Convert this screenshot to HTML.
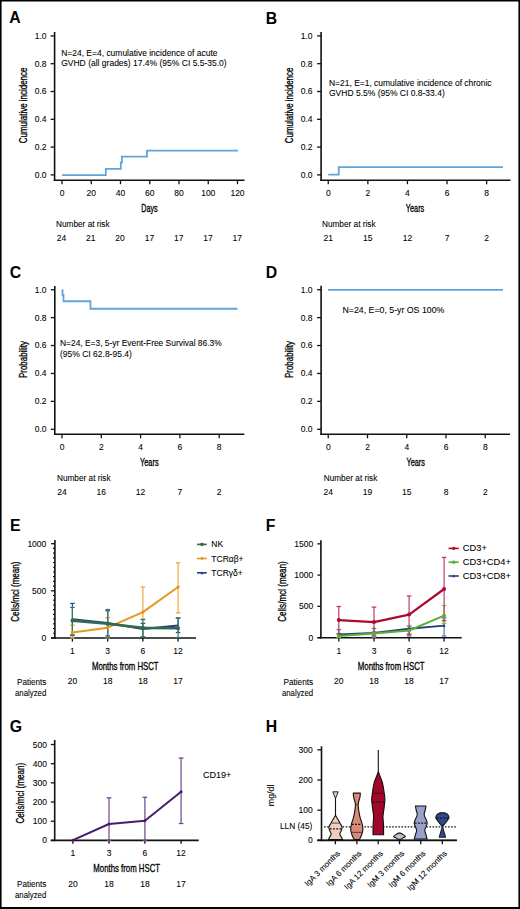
<!DOCTYPE html><html><head><meta charset="utf-8"><style>html,body{margin:0;padding:0;background:#fff;overflow:hidden}svg{display:block}text{font-family:"Liberation Sans",sans-serif;fill:#000;stroke:#000;stroke-width:0.08px}</style></head><body>
<svg width="520" height="909" viewBox="0 0 520 909">
<rect x="0" y="0" width="520" height="909" fill="#fff"/>
<text x="9.3" y="23.2" font-size="15.8" font-weight="bold" style="stroke-width:0" fill="#000" stroke="#000">A</text>
<line x1="54.6" y1="32" x2="54.6" y2="181" stroke="#111" stroke-width="1.6"/>
<line x1="53.8" y1="180.2" x2="244.5" y2="180.2" stroke="#111" stroke-width="1.6"/>
<line x1="50.6" y1="174.9" x2="54.6" y2="174.9" stroke="#111" stroke-width="1.3"/>
<text x="46.6" y="177.8" font-size="8.5" text-anchor="end">0.0</text>
<line x1="50.6" y1="147.1" x2="54.6" y2="147.1" stroke="#111" stroke-width="1.3"/>
<text x="46.6" y="150" font-size="8.5" text-anchor="end">0.2</text>
<line x1="50.6" y1="119.3" x2="54.6" y2="119.3" stroke="#111" stroke-width="1.3"/>
<text x="46.6" y="122.2" font-size="8.5" text-anchor="end">0.4</text>
<line x1="50.6" y1="91.5" x2="54.6" y2="91.5" stroke="#111" stroke-width="1.3"/>
<text x="46.6" y="94.4" font-size="8.5" text-anchor="end">0.6</text>
<line x1="50.6" y1="63.7" x2="54.6" y2="63.7" stroke="#111" stroke-width="1.3"/>
<text x="46.6" y="66.6" font-size="8.5" text-anchor="end">0.8</text>
<line x1="50.6" y1="35.9" x2="54.6" y2="35.9" stroke="#111" stroke-width="1.3"/>
<text x="46.6" y="38.8" font-size="8.5" text-anchor="end">1.0</text>
<line x1="62" y1="180.2" x2="62" y2="184.2" stroke="#111" stroke-width="1.3"/>
<text x="62" y="196" font-size="8.5" text-anchor="middle">0</text>
<line x1="91.25" y1="180.2" x2="91.25" y2="184.2" stroke="#111" stroke-width="1.3"/>
<text x="91.25" y="196" font-size="8.5" text-anchor="middle">20</text>
<line x1="120.5" y1="180.2" x2="120.5" y2="184.2" stroke="#111" stroke-width="1.3"/>
<text x="120.5" y="196" font-size="8.5" text-anchor="middle">40</text>
<line x1="149.75" y1="180.2" x2="149.75" y2="184.2" stroke="#111" stroke-width="1.3"/>
<text x="149.75" y="196" font-size="8.5" text-anchor="middle">60</text>
<line x1="179" y1="180.2" x2="179" y2="184.2" stroke="#111" stroke-width="1.3"/>
<text x="179" y="196" font-size="8.5" text-anchor="middle">80</text>
<line x1="208.25" y1="180.2" x2="208.25" y2="184.2" stroke="#111" stroke-width="1.3"/>
<text x="208.25" y="196" font-size="8.5" text-anchor="middle">100</text>
<line x1="237.5" y1="180.2" x2="237.5" y2="184.2" stroke="#111" stroke-width="1.3"/>
<text x="237.5" y="196" font-size="8.5" text-anchor="middle">120</text>
<text x="149.4" y="212" font-size="10.8" text-anchor="middle" textLength="16.3" lengthAdjust="spacingAndGlyphs" style="stroke-width:0.32px">Days</text>
<text transform="translate(27.4,105.4) rotate(-90)" x="0" y="0" font-size="11.2" text-anchor="middle" style="stroke-width:0.32px" textLength="75.6" lengthAdjust="spacingAndGlyphs">Cumulative incidence</text>
<text x="61.2" y="55.8" font-size="8.5" textLength="156.3" lengthAdjust="spacingAndGlyphs">N=24, E=4, cumulative incidence of acute</text>
<text x="61.2" y="66.3" font-size="8.5" textLength="165.5" lengthAdjust="spacingAndGlyphs">GVHD (all grades) 17.4% (95% CI 5.5-35.0)</text>
<polyline points="62,175.1 105.8,175.1 105.8,168.8 120.8,168.8 120.8,162.5 121.9,162.5 121.9,156.6 147,156.6 147,150.6 238,150.6" fill="none" stroke="#5fa5dc" stroke-width="1.8" stroke-linejoin="miter" stroke-linecap="butt"/>
<text x="56.1" y="227.1" font-size="8.5" textLength="53.5" lengthAdjust="spacingAndGlyphs">Number at risk</text>
<text x="61.5" y="240.6" font-size="8.5" text-anchor="middle">24</text>
<text x="90.8" y="240.6" font-size="8.5" text-anchor="middle">21</text>
<text x="120.1" y="240.6" font-size="8.5" text-anchor="middle">20</text>
<text x="149.4" y="240.6" font-size="8.5" text-anchor="middle">17</text>
<text x="178.7" y="240.6" font-size="8.5" text-anchor="middle">17</text>
<text x="208" y="240.6" font-size="8.5" text-anchor="middle">17</text>
<text x="237.3" y="240.6" font-size="8.5" text-anchor="middle">17</text>
<text x="265.8" y="23.5" font-size="15.8" font-weight="bold" style="stroke-width:0" fill="#000" stroke="#000">B</text>
<line x1="321.1" y1="32" x2="321.1" y2="181" stroke="#111" stroke-width="1.6"/>
<line x1="320.3" y1="180.2" x2="510.5" y2="180.2" stroke="#111" stroke-width="1.6"/>
<line x1="317.1" y1="174.9" x2="321.1" y2="174.9" stroke="#111" stroke-width="1.3"/>
<text x="312.6" y="177.8" font-size="8.5" text-anchor="end">0.0</text>
<line x1="317.1" y1="147.1" x2="321.1" y2="147.1" stroke="#111" stroke-width="1.3"/>
<text x="312.6" y="150" font-size="8.5" text-anchor="end">0.2</text>
<line x1="317.1" y1="119.3" x2="321.1" y2="119.3" stroke="#111" stroke-width="1.3"/>
<text x="312.6" y="122.2" font-size="8.5" text-anchor="end">0.4</text>
<line x1="317.1" y1="91.5" x2="321.1" y2="91.5" stroke="#111" stroke-width="1.3"/>
<text x="312.6" y="94.4" font-size="8.5" text-anchor="end">0.6</text>
<line x1="317.1" y1="63.7" x2="321.1" y2="63.7" stroke="#111" stroke-width="1.3"/>
<text x="312.6" y="66.6" font-size="8.5" text-anchor="end">0.8</text>
<line x1="317.1" y1="35.9" x2="321.1" y2="35.9" stroke="#111" stroke-width="1.3"/>
<text x="312.6" y="38.8" font-size="8.5" text-anchor="end">1.0</text>
<line x1="328.25" y1="180.2" x2="328.25" y2="184.2" stroke="#111" stroke-width="1.3"/>
<text x="328.25" y="196" font-size="8.5" text-anchor="middle">0</text>
<line x1="367.85" y1="180.2" x2="367.85" y2="184.2" stroke="#111" stroke-width="1.3"/>
<text x="367.85" y="196" font-size="8.5" text-anchor="middle">2</text>
<line x1="407.45" y1="180.2" x2="407.45" y2="184.2" stroke="#111" stroke-width="1.3"/>
<text x="407.45" y="196" font-size="8.5" text-anchor="middle">4</text>
<line x1="447.05" y1="180.2" x2="447.05" y2="184.2" stroke="#111" stroke-width="1.3"/>
<text x="447.05" y="196" font-size="8.5" text-anchor="middle">6</text>
<line x1="486.65" y1="180.2" x2="486.65" y2="184.2" stroke="#111" stroke-width="1.3"/>
<text x="486.65" y="196" font-size="8.5" text-anchor="middle">8</text>
<text x="415" y="212" font-size="10.8" text-anchor="middle" textLength="18.5" lengthAdjust="spacingAndGlyphs" style="stroke-width:0.32px">Years</text>
<text transform="translate(293.4,105.4) rotate(-90)" x="0" y="0" font-size="11.2" text-anchor="middle" style="stroke-width:0.32px" textLength="75.6" lengthAdjust="spacingAndGlyphs">Cumulative incidence</text>
<text x="329" y="85.6" font-size="8.5" textLength="162.6" lengthAdjust="spacingAndGlyphs">N=21, E=1, cumulative incidence of chronic</text>
<text x="329" y="96.1" font-size="8.5">GVHD 5.5% (95% CI 0.8-33.4)</text>
<polyline points="328.25,174.7 338.75,174.7 338.75,167.2 503,167.2" fill="none" stroke="#5fa5dc" stroke-width="1.8" stroke-linejoin="miter" stroke-linecap="butt"/>
<text x="322" y="227.1" font-size="8.5" textLength="53.5" lengthAdjust="spacingAndGlyphs">Number at risk</text>
<text x="328.25" y="240.6" font-size="8.5" text-anchor="middle">21</text>
<text x="367.85" y="240.6" font-size="8.5" text-anchor="middle">15</text>
<text x="407.45" y="240.6" font-size="8.5" text-anchor="middle">12</text>
<text x="447.05" y="240.6" font-size="8.5" text-anchor="middle">7</text>
<text x="486.65" y="240.6" font-size="8.5" text-anchor="middle">2</text>
<text x="9.8" y="277.5" font-size="15.8" font-weight="bold" style="stroke-width:0" fill="#000" stroke="#000">C</text>
<line x1="54.8" y1="286" x2="54.8" y2="435.1" stroke="#111" stroke-width="1.6"/>
<line x1="54" y1="434.3" x2="244.3" y2="434.3" stroke="#111" stroke-width="1.6"/>
<line x1="50.8" y1="429.3" x2="54.8" y2="429.3" stroke="#111" stroke-width="1.3"/>
<text x="46.6" y="432.2" font-size="8.5" text-anchor="end">0.0</text>
<line x1="50.8" y1="401.38" x2="54.8" y2="401.38" stroke="#111" stroke-width="1.3"/>
<text x="46.6" y="404.28" font-size="8.5" text-anchor="end">0.2</text>
<line x1="50.8" y1="373.46" x2="54.8" y2="373.46" stroke="#111" stroke-width="1.3"/>
<text x="46.6" y="376.36" font-size="8.5" text-anchor="end">0.4</text>
<line x1="50.8" y1="345.54" x2="54.8" y2="345.54" stroke="#111" stroke-width="1.3"/>
<text x="46.6" y="348.44" font-size="8.5" text-anchor="end">0.6</text>
<line x1="50.8" y1="317.62" x2="54.8" y2="317.62" stroke="#111" stroke-width="1.3"/>
<text x="46.6" y="320.52" font-size="8.5" text-anchor="end">0.8</text>
<line x1="50.8" y1="289.7" x2="54.8" y2="289.7" stroke="#111" stroke-width="1.3"/>
<text x="46.6" y="292.6" font-size="8.5" text-anchor="end">1.0</text>
<line x1="62" y1="434.3" x2="62" y2="438.3" stroke="#111" stroke-width="1.3"/>
<text x="62" y="450.1" font-size="8.5" text-anchor="middle">0</text>
<line x1="101.3" y1="434.3" x2="101.3" y2="438.3" stroke="#111" stroke-width="1.3"/>
<text x="101.3" y="450.1" font-size="8.5" text-anchor="middle">2</text>
<line x1="140.6" y1="434.3" x2="140.6" y2="438.3" stroke="#111" stroke-width="1.3"/>
<text x="140.6" y="450.1" font-size="8.5" text-anchor="middle">4</text>
<line x1="179.9" y1="434.3" x2="179.9" y2="438.3" stroke="#111" stroke-width="1.3"/>
<text x="179.9" y="450.1" font-size="8.5" text-anchor="middle">6</text>
<line x1="219.2" y1="434.3" x2="219.2" y2="438.3" stroke="#111" stroke-width="1.3"/>
<text x="219.2" y="450.1" font-size="8.5" text-anchor="middle">8</text>
<text x="149.3" y="465.7" font-size="10.8" text-anchor="middle" textLength="18.5" lengthAdjust="spacingAndGlyphs" style="stroke-width:0.32px">Years</text>
<text transform="translate(26.9,359.5) rotate(-90)" x="0" y="0" font-size="11.2" text-anchor="middle" style="stroke-width:0.32px" textLength="37" lengthAdjust="spacingAndGlyphs">Probability</text>
<text x="60" y="346.3" font-size="8.5" textLength="161.7" lengthAdjust="spacingAndGlyphs">N=24, E=3, 5-yr Event-Free Survival 86.3%</text>
<text x="60" y="356.8" font-size="8.5">(95% CI 62.8-95.4)</text>
<polyline points="62.5,289.25 62.5,295 63.5,295 63.5,301.25 90.5,301.25 90.5,308.75 237.5,308.75" fill="none" stroke="#5fa5dc" stroke-width="1.8" stroke-linejoin="miter" stroke-linecap="butt"/>
<text x="57" y="481" font-size="8.5" textLength="53.5" lengthAdjust="spacingAndGlyphs">Number at risk</text>
<text x="62" y="494.5" font-size="8.5" text-anchor="middle">24</text>
<text x="101.3" y="494.5" font-size="8.5" text-anchor="middle">16</text>
<text x="140.6" y="494.5" font-size="8.5" text-anchor="middle">12</text>
<text x="179.9" y="494.5" font-size="8.5" text-anchor="middle">7</text>
<text x="219.2" y="494.5" font-size="8.5" text-anchor="middle">2</text>
<text x="265.8" y="277.5" font-size="15.8" font-weight="bold" style="stroke-width:0" fill="#000" stroke="#000">D</text>
<line x1="321.1" y1="285.8" x2="321.1" y2="435.1" stroke="#111" stroke-width="1.6"/>
<line x1="320.3" y1="434.3" x2="510" y2="434.3" stroke="#111" stroke-width="1.6"/>
<line x1="317.1" y1="429.3" x2="321.1" y2="429.3" stroke="#111" stroke-width="1.3"/>
<text x="312.6" y="432.2" font-size="8.5" text-anchor="end">0.0</text>
<line x1="317.1" y1="401.38" x2="321.1" y2="401.38" stroke="#111" stroke-width="1.3"/>
<text x="312.6" y="404.28" font-size="8.5" text-anchor="end">0.2</text>
<line x1="317.1" y1="373.46" x2="321.1" y2="373.46" stroke="#111" stroke-width="1.3"/>
<text x="312.6" y="376.36" font-size="8.5" text-anchor="end">0.4</text>
<line x1="317.1" y1="345.54" x2="321.1" y2="345.54" stroke="#111" stroke-width="1.3"/>
<text x="312.6" y="348.44" font-size="8.5" text-anchor="end">0.6</text>
<line x1="317.1" y1="317.62" x2="321.1" y2="317.62" stroke="#111" stroke-width="1.3"/>
<text x="312.6" y="320.52" font-size="8.5" text-anchor="end">0.8</text>
<line x1="317.1" y1="289.7" x2="321.1" y2="289.7" stroke="#111" stroke-width="1.3"/>
<text x="312.6" y="292.6" font-size="8.5" text-anchor="end">1.0</text>
<line x1="328.25" y1="434.3" x2="328.25" y2="438.3" stroke="#111" stroke-width="1.3"/>
<text x="328.25" y="450.1" font-size="8.5" text-anchor="middle">0</text>
<line x1="367.5" y1="434.3" x2="367.5" y2="438.3" stroke="#111" stroke-width="1.3"/>
<text x="367.5" y="450.1" font-size="8.5" text-anchor="middle">2</text>
<line x1="406.75" y1="434.3" x2="406.75" y2="438.3" stroke="#111" stroke-width="1.3"/>
<text x="406.75" y="450.1" font-size="8.5" text-anchor="middle">4</text>
<line x1="446" y1="434.3" x2="446" y2="438.3" stroke="#111" stroke-width="1.3"/>
<text x="446" y="450.1" font-size="8.5" text-anchor="middle">6</text>
<line x1="485.25" y1="434.3" x2="485.25" y2="438.3" stroke="#111" stroke-width="1.3"/>
<text x="485.25" y="450.1" font-size="8.5" text-anchor="middle">8</text>
<text x="415.7" y="465.7" font-size="10.8" text-anchor="middle" textLength="18.5" lengthAdjust="spacingAndGlyphs" style="stroke-width:0.32px">Years</text>
<text transform="translate(293.4,359.5) rotate(-90)" x="0" y="0" font-size="11.2" text-anchor="middle" style="stroke-width:0.32px" textLength="37" lengthAdjust="spacingAndGlyphs">Probability</text>
<text x="342.5" y="313" font-size="8.5" textLength="101.8" lengthAdjust="spacingAndGlyphs">N=24, E=0, 5-yr OS 100%</text>
<polyline points="328,289.9 503,289.9" fill="none" stroke="#5fa5dc" stroke-width="1.8" stroke-linejoin="miter" stroke-linecap="butt"/>
<text x="323.75" y="481" font-size="8.5" textLength="53.5" lengthAdjust="spacingAndGlyphs">Number at risk</text>
<text x="328.25" y="494.5" font-size="8.5" text-anchor="middle">24</text>
<text x="367.5" y="494.5" font-size="8.5" text-anchor="middle">19</text>
<text x="406.75" y="494.5" font-size="8.5" text-anchor="middle">15</text>
<text x="446" y="494.5" font-size="8.5" text-anchor="middle">8</text>
<text x="485.25" y="494.5" font-size="8.5" text-anchor="middle">2</text>
<text x="10.1" y="531.3" font-size="15.8" font-weight="bold" style="stroke-width:0" fill="#000" stroke="#000">E</text>
<line x1="54.9" y1="540.1" x2="54.9" y2="638.8" stroke="#111" stroke-width="1.6"/>
<line x1="51.1" y1="638" x2="196" y2="638" stroke="#111" stroke-width="1.6"/>
<line x1="51.1" y1="543.7" x2="54.9" y2="543.7" stroke="#111" stroke-width="1.3"/>
<text x="46.3" y="546.7" font-size="8.5" text-anchor="end">1000</text>
<line x1="51.1" y1="590.8" x2="54.9" y2="590.8" stroke="#111" stroke-width="1.3"/>
<text x="46.3" y="593.8" font-size="8.5" text-anchor="end">500</text>
<line x1="51.1" y1="637.9" x2="54.9" y2="637.9" stroke="#111" stroke-width="1.3"/>
<text x="46.3" y="640.9" font-size="8.5" text-anchor="end">0</text>
<line x1="53" y1="633.19" x2="54.9" y2="633.19" stroke="#111" stroke-width="1.1"/>
<line x1="53" y1="628.48" x2="54.9" y2="628.48" stroke="#111" stroke-width="1.1"/>
<line x1="53" y1="623.77" x2="54.9" y2="623.77" stroke="#111" stroke-width="1.1"/>
<line x1="53" y1="619.06" x2="54.9" y2="619.06" stroke="#111" stroke-width="1.1"/>
<line x1="53" y1="614.35" x2="54.9" y2="614.35" stroke="#111" stroke-width="1.1"/>
<line x1="53" y1="609.64" x2="54.9" y2="609.64" stroke="#111" stroke-width="1.1"/>
<line x1="53" y1="604.93" x2="54.9" y2="604.93" stroke="#111" stroke-width="1.1"/>
<line x1="53" y1="600.22" x2="54.9" y2="600.22" stroke="#111" stroke-width="1.1"/>
<line x1="53" y1="595.51" x2="54.9" y2="595.51" stroke="#111" stroke-width="1.1"/>
<line x1="53" y1="586.09" x2="54.9" y2="586.09" stroke="#111" stroke-width="1.1"/>
<line x1="53" y1="581.38" x2="54.9" y2="581.38" stroke="#111" stroke-width="1.1"/>
<line x1="53" y1="576.67" x2="54.9" y2="576.67" stroke="#111" stroke-width="1.1"/>
<line x1="53" y1="571.96" x2="54.9" y2="571.96" stroke="#111" stroke-width="1.1"/>
<line x1="53" y1="567.25" x2="54.9" y2="567.25" stroke="#111" stroke-width="1.1"/>
<line x1="53" y1="562.54" x2="54.9" y2="562.54" stroke="#111" stroke-width="1.1"/>
<line x1="53" y1="557.83" x2="54.9" y2="557.83" stroke="#111" stroke-width="1.1"/>
<line x1="53" y1="553.12" x2="54.9" y2="553.12" stroke="#111" stroke-width="1.1"/>
<line x1="53" y1="548.41" x2="54.9" y2="548.41" stroke="#111" stroke-width="1.1"/>
<line x1="72.4" y1="638" x2="72.4" y2="641.6" stroke="#111" stroke-width="1.3"/>
<text x="72.4" y="654" font-size="8.5" text-anchor="middle">1</text>
<line x1="107.7" y1="638" x2="107.7" y2="641.6" stroke="#111" stroke-width="1.3"/>
<text x="107.7" y="654" font-size="8.5" text-anchor="middle">3</text>
<line x1="142.9" y1="638" x2="142.9" y2="641.6" stroke="#111" stroke-width="1.3"/>
<text x="142.9" y="654" font-size="8.5" text-anchor="middle">6</text>
<line x1="178.1" y1="638" x2="178.1" y2="641.6" stroke="#111" stroke-width="1.3"/>
<text x="178.1" y="654" font-size="8.5" text-anchor="middle">12</text>
<text x="125.3" y="670" font-size="11" text-anchor="middle" textLength="66.7" lengthAdjust="spacingAndGlyphs" style="stroke-width:0.32px">Months from HSCT</text>
<text x="46.3" y="685" font-size="8.5" text-anchor="end" textLength="29.3" lengthAdjust="spacingAndGlyphs">Patients</text>
<text x="46.3" y="695.5" font-size="8.5" text-anchor="end" textLength="31.3" lengthAdjust="spacingAndGlyphs">analyzed</text>
<text x="72.4" y="684.3" font-size="8.5" text-anchor="middle">20</text>
<text x="107.7" y="684.3" font-size="8.5" text-anchor="middle">18</text>
<text x="142.9" y="684.3" font-size="8.5" text-anchor="middle">18</text>
<text x="178.1" y="684.3" font-size="8.5" text-anchor="middle">17</text>
<text transform="translate(19.3,591.7) rotate(-90)" x="0" y="0" font-size="11.2" text-anchor="middle" style="stroke-width:0.32px" textLength="60.2" lengthAdjust="spacingAndGlyphs">Cells/mcl (mean)</text>
<line x1="72.4" y1="625.2" x2="72.4" y2="638" stroke="#eba940" stroke-width="1.2"/>
<line x1="70.1" y1="625.2" x2="74.7" y2="625.2" stroke="#eba940" stroke-width="1.3"/>
<line x1="70.1" y1="638" x2="74.7" y2="638" stroke="#eba940" stroke-width="1.3"/>
<line x1="107.7" y1="617.7" x2="107.7" y2="638" stroke="#eba940" stroke-width="1.2"/>
<line x1="105.4" y1="617.7" x2="110" y2="617.7" stroke="#eba940" stroke-width="1.3"/>
<line x1="105.4" y1="638" x2="110" y2="638" stroke="#eba940" stroke-width="1.3"/>
<line x1="142.9" y1="587" x2="142.9" y2="619" stroke="#eba940" stroke-width="1.2"/>
<line x1="140.6" y1="587" x2="145.2" y2="587" stroke="#eba940" stroke-width="1.3"/>
<line x1="140.6" y1="619" x2="145.2" y2="619" stroke="#eba940" stroke-width="1.3"/>
<line x1="178.1" y1="562.8" x2="178.1" y2="612.9" stroke="#eba940" stroke-width="1.2"/>
<line x1="175.8" y1="562.8" x2="180.4" y2="562.8" stroke="#eba940" stroke-width="1.3"/>
<line x1="175.8" y1="612.9" x2="180.4" y2="612.9" stroke="#eba940" stroke-width="1.3"/>
<line x1="72.4" y1="603.4" x2="72.4" y2="635.5" stroke="#2f4d92" stroke-width="1.2"/>
<line x1="70.1" y1="603.4" x2="74.7" y2="603.4" stroke="#2f4d92" stroke-width="1.3"/>
<line x1="70.1" y1="635.5" x2="74.7" y2="635.5" stroke="#2f4d92" stroke-width="1.3"/>
<line x1="107.7" y1="610.8" x2="107.7" y2="636" stroke="#2f4d92" stroke-width="1.2"/>
<line x1="105.4" y1="610.8" x2="110" y2="610.8" stroke="#2f4d92" stroke-width="1.3"/>
<line x1="105.4" y1="636" x2="110" y2="636" stroke="#2f4d92" stroke-width="1.3"/>
<line x1="142.9" y1="623.3" x2="142.9" y2="636.9" stroke="#2f4d92" stroke-width="1.2"/>
<line x1="140.6" y1="623.3" x2="145.2" y2="623.3" stroke="#2f4d92" stroke-width="1.3"/>
<line x1="140.6" y1="636.9" x2="145.2" y2="636.9" stroke="#2f4d92" stroke-width="1.3"/>
<line x1="178.1" y1="618" x2="178.1" y2="632.5" stroke="#2f4d92" stroke-width="1.2"/>
<line x1="175.8" y1="618" x2="180.4" y2="618" stroke="#2f4d92" stroke-width="1.3"/>
<line x1="175.8" y1="632.5" x2="180.4" y2="632.5" stroke="#2f4d92" stroke-width="1.3"/>
<line x1="72.4" y1="607.4" x2="72.4" y2="634.9" stroke="#3d7a5c" stroke-width="1.2"/>
<line x1="70.1" y1="607.4" x2="74.7" y2="607.4" stroke="#3d7a5c" stroke-width="1.3"/>
<line x1="70.1" y1="634.9" x2="74.7" y2="634.9" stroke="#3d7a5c" stroke-width="1.3"/>
<line x1="107.7" y1="609.5" x2="107.7" y2="638" stroke="#3d7a5c" stroke-width="1.2"/>
<line x1="105.4" y1="609.5" x2="110" y2="609.5" stroke="#3d7a5c" stroke-width="1.3"/>
<line x1="105.4" y1="638" x2="110" y2="638" stroke="#3d7a5c" stroke-width="1.3"/>
<line x1="142.9" y1="619.6" x2="142.9" y2="636.9" stroke="#3d7a5c" stroke-width="1.2"/>
<line x1="140.6" y1="619.6" x2="145.2" y2="619.6" stroke="#3d7a5c" stroke-width="1.3"/>
<line x1="140.6" y1="636.9" x2="145.2" y2="636.9" stroke="#3d7a5c" stroke-width="1.3"/>
<line x1="178.1" y1="617.9" x2="178.1" y2="637.5" stroke="#3d7a5c" stroke-width="1.2"/>
<line x1="175.8" y1="617.9" x2="180.4" y2="617.9" stroke="#3d7a5c" stroke-width="1.3"/>
<line x1="175.8" y1="637.5" x2="180.4" y2="637.5" stroke="#3d7a5c" stroke-width="1.3"/>
<polyline points="72.4,632.6 107.7,627.7 142.9,612.1 178.1,587" fill="none" stroke="#e8961e" stroke-width="2.0" stroke-linejoin="round" stroke-linecap="butt"/>
<circle cx="72.4" cy="632.6" r="1.6" fill="#e8961e"/>
<circle cx="107.7" cy="627.7" r="1.6" fill="#e8961e"/>
<circle cx="142.9" cy="612.1" r="1.6" fill="#e8961e"/>
<circle cx="178.1" cy="587" r="1.6" fill="#e8961e"/>
<polyline points="72.4,619.2 107.7,623 142.9,629 178.1,625.6" fill="none" stroke="#253f84" stroke-width="2.0" stroke-linejoin="round" stroke-linecap="butt"/>
<polyline points="72.4,620.6 107.7,623.8 142.9,627.9 178.1,628.3" fill="none" stroke="#33694f" stroke-width="2.6" stroke-linejoin="round" stroke-linecap="butt"/>
<rect x="70.7" y="618.9" width="3.4" height="3.4" fill="#33694f"/>
<rect x="106" y="622.1" width="3.4" height="3.4" fill="#33694f"/>
<rect x="141.2" y="626.2" width="3.4" height="3.4" fill="#33694f"/>
<rect x="176.4" y="626.6" width="3.4" height="3.4" fill="#33694f"/>
<line x1="197" y1="544.4" x2="206.8" y2="544.4" stroke="#33694f" stroke-width="1.6"/>
<rect x="200.5" y="542.9" width="3" height="3" fill="#33694f"/>
<text x="211.3" y="547.4" font-size="8.5">NK</text>
<line x1="197" y1="558.5" x2="206.8" y2="558.5" stroke="#e8961e" stroke-width="1.6"/>
<circle cx="202" cy="558.5" r="1.4" fill="#e8961e"/>
<text x="211.3" y="561.5" font-size="8.5">TCR&#945;&#946;+</text>
<line x1="197" y1="572.8" x2="206.8" y2="572.8" stroke="#253f84" stroke-width="1.6"/>
<polygon points="200.5,574.15 203.5,574.15 202,571.15" fill="#253f84"/>
<text x="211.3" y="575.8" font-size="8.5">TCR&#947;&#948;+</text>
<text x="265.8" y="531.3" font-size="15.8" font-weight="bold" style="stroke-width:0" fill="#000" stroke="#000">F</text>
<line x1="320.9" y1="540.3" x2="320.9" y2="638.6" stroke="#111" stroke-width="1.6"/>
<line x1="317.6" y1="637.8" x2="461.7" y2="637.8" stroke="#111" stroke-width="1.6"/>
<line x1="317.4" y1="637.6" x2="320.9" y2="637.6" stroke="#111" stroke-width="1.3"/>
<text x="313.2" y="640.6" font-size="8.5" text-anchor="end">0</text>
<line x1="317.4" y1="606.35" x2="320.9" y2="606.35" stroke="#111" stroke-width="1.3"/>
<text x="313.2" y="609.35" font-size="8.5" text-anchor="end">500</text>
<line x1="317.4" y1="575.1" x2="320.9" y2="575.1" stroke="#111" stroke-width="1.3"/>
<text x="313.2" y="578.1" font-size="8.5" text-anchor="end">1000</text>
<line x1="317.4" y1="543.85" x2="320.9" y2="543.85" stroke="#111" stroke-width="1.3"/>
<text x="313.2" y="546.85" font-size="8.5" text-anchor="end">1500</text>
<line x1="338.8" y1="637.8" x2="338.8" y2="641.5" stroke="#111" stroke-width="1.3"/>
<text x="338.8" y="654" font-size="8.5" text-anchor="middle">1</text>
<line x1="374" y1="637.8" x2="374" y2="641.5" stroke="#111" stroke-width="1.3"/>
<text x="374" y="654" font-size="8.5" text-anchor="middle">3</text>
<line x1="409.1" y1="637.8" x2="409.1" y2="641.5" stroke="#111" stroke-width="1.3"/>
<text x="409.1" y="654" font-size="8.5" text-anchor="middle">6</text>
<line x1="444.1" y1="637.8" x2="444.1" y2="641.5" stroke="#111" stroke-width="1.3"/>
<text x="444.1" y="654" font-size="8.5" text-anchor="middle">12</text>
<text x="391.2" y="670" font-size="11" text-anchor="middle" textLength="66.7" lengthAdjust="spacingAndGlyphs" style="stroke-width:0.32px">Months from HSCT</text>
<text x="313.2" y="685" font-size="8.5" text-anchor="end" textLength="29.8" lengthAdjust="spacingAndGlyphs">Patients</text>
<text x="313.2" y="695.5" font-size="8.5" text-anchor="end" textLength="31.3" lengthAdjust="spacingAndGlyphs">analyzed</text>
<text x="338.8" y="684.3" font-size="8.5" text-anchor="middle">20</text>
<text x="374" y="684.3" font-size="8.5" text-anchor="middle">18</text>
<text x="409.1" y="684.3" font-size="8.5" text-anchor="middle">18</text>
<text x="444.1" y="684.3" font-size="8.5" text-anchor="middle">17</text>
<text transform="translate(285.5,591.5) rotate(-90)" x="0" y="0" font-size="11.2" text-anchor="middle" style="stroke-width:0.32px" textLength="60.6" lengthAdjust="spacingAndGlyphs">Cells/mcl (mean)</text>
<line x1="338.8" y1="629.6" x2="338.8" y2="637.5" stroke="#5a7bb0" stroke-width="1.2"/>
<line x1="336.5" y1="629.6" x2="341.1" y2="629.6" stroke="#5a7bb0" stroke-width="1.3"/>
<line x1="336.5" y1="637.5" x2="341.1" y2="637.5" stroke="#5a7bb0" stroke-width="1.3"/>
<line x1="374" y1="628.4" x2="374" y2="637.5" stroke="#5a7bb0" stroke-width="1.2"/>
<line x1="371.7" y1="628.4" x2="376.3" y2="628.4" stroke="#5a7bb0" stroke-width="1.3"/>
<line x1="371.7" y1="637.5" x2="376.3" y2="637.5" stroke="#5a7bb0" stroke-width="1.3"/>
<line x1="409.1" y1="626" x2="409.1" y2="636" stroke="#5a7bb0" stroke-width="1.2"/>
<line x1="406.8" y1="626" x2="411.4" y2="626" stroke="#5a7bb0" stroke-width="1.3"/>
<line x1="406.8" y1="636" x2="411.4" y2="636" stroke="#5a7bb0" stroke-width="1.3"/>
<line x1="444.1" y1="618" x2="444.1" y2="636" stroke="#5a7bb0" stroke-width="1.2"/>
<line x1="441.8" y1="618" x2="446.4" y2="618" stroke="#5a7bb0" stroke-width="1.3"/>
<line x1="441.8" y1="636" x2="446.4" y2="636" stroke="#5a7bb0" stroke-width="1.3"/>
<line x1="338.8" y1="633.5" x2="338.8" y2="637.5" stroke="#7cc25a" stroke-width="1.2"/>
<line x1="336.5" y1="633.5" x2="341.1" y2="633.5" stroke="#7cc25a" stroke-width="1.3"/>
<line x1="336.5" y1="637.5" x2="341.1" y2="637.5" stroke="#7cc25a" stroke-width="1.3"/>
<line x1="374" y1="631.5" x2="374" y2="636" stroke="#7cc25a" stroke-width="1.2"/>
<line x1="371.7" y1="631.5" x2="376.3" y2="631.5" stroke="#7cc25a" stroke-width="1.3"/>
<line x1="371.7" y1="636" x2="376.3" y2="636" stroke="#7cc25a" stroke-width="1.3"/>
<line x1="409.1" y1="626" x2="409.1" y2="634" stroke="#7cc25a" stroke-width="1.2"/>
<line x1="406.8" y1="626" x2="411.4" y2="626" stroke="#7cc25a" stroke-width="1.3"/>
<line x1="406.8" y1="634" x2="411.4" y2="634" stroke="#7cc25a" stroke-width="1.3"/>
<line x1="444.1" y1="605.5" x2="444.1" y2="623.4" stroke="#7cc25a" stroke-width="1.2"/>
<line x1="441.8" y1="605.5" x2="446.4" y2="605.5" stroke="#7cc25a" stroke-width="1.3"/>
<line x1="441.8" y1="623.4" x2="446.4" y2="623.4" stroke="#7cc25a" stroke-width="1.3"/>
<line x1="338.8" y1="606.5" x2="338.8" y2="634" stroke="#c8385e" stroke-width="1.2"/>
<line x1="336.5" y1="606.5" x2="341.1" y2="606.5" stroke="#c8385e" stroke-width="1.3"/>
<line x1="336.5" y1="634" x2="341.1" y2="634" stroke="#c8385e" stroke-width="1.3"/>
<line x1="374" y1="607.1" x2="374" y2="636" stroke="#c8385e" stroke-width="1.2"/>
<line x1="371.7" y1="607.1" x2="376.3" y2="607.1" stroke="#c8385e" stroke-width="1.3"/>
<line x1="371.7" y1="636" x2="376.3" y2="636" stroke="#c8385e" stroke-width="1.3"/>
<line x1="409.1" y1="596" x2="409.1" y2="634.4" stroke="#c8385e" stroke-width="1.2"/>
<line x1="406.8" y1="596" x2="411.4" y2="596" stroke="#c8385e" stroke-width="1.3"/>
<line x1="406.8" y1="634.4" x2="411.4" y2="634.4" stroke="#c8385e" stroke-width="1.3"/>
<line x1="444.1" y1="557.4" x2="444.1" y2="620.7" stroke="#c8385e" stroke-width="1.2"/>
<line x1="441.8" y1="557.4" x2="446.4" y2="557.4" stroke="#c8385e" stroke-width="1.3"/>
<line x1="441.8" y1="620.7" x2="446.4" y2="620.7" stroke="#c8385e" stroke-width="1.3"/>
<polyline points="338.8,634.4 374,633 409.1,628.7 444.1,625.6" fill="none" stroke="#223f80" stroke-width="1.9" stroke-linejoin="round" stroke-linecap="butt"/>
<polygon points="337.2,635.84 340.4,635.84 338.8,632.64" fill="#223f80"/>
<polygon points="372.4,634.44 375.6,634.44 374,631.24" fill="#223f80"/>
<polygon points="407.5,630.14 410.7,630.14 409.1,626.94" fill="#223f80"/>
<polygon points="442.5,627.04 445.7,627.04 444.1,623.84" fill="#223f80"/>
<polyline points="338.8,636.1 374,633.6 409.1,630.5 444.1,615.7" fill="none" stroke="#5cae37" stroke-width="2.0" stroke-linejoin="round" stroke-linecap="butt"/>
<rect x="337.1" y="634.4" width="3.4" height="3.4" fill="#5cae37"/>
<rect x="372.3" y="631.9" width="3.4" height="3.4" fill="#5cae37"/>
<rect x="407.4" y="628.8" width="3.4" height="3.4" fill="#5cae37"/>
<rect x="442.4" y="614" width="3.4" height="3.4" fill="#5cae37"/>
<polyline points="338.8,620.1 374,622.1 409.1,614.6 444.1,589" fill="none" stroke="#ad0a32" stroke-width="2.2" stroke-linejoin="round" stroke-linecap="butt"/>
<circle cx="338.8" cy="620.1" r="2" fill="#ad0a32"/>
<circle cx="374" cy="622.1" r="2" fill="#ad0a32"/>
<circle cx="409.1" cy="614.6" r="2" fill="#ad0a32"/>
<circle cx="444.1" cy="589" r="2" fill="#ad0a32"/>
<line x1="448.5" y1="548.4" x2="458.8" y2="548.4" stroke="#ad0a32" stroke-width="1.6"/>
<circle cx="453.7" cy="548.4" r="1.6" fill="#ad0a32"/>
<text x="462.8" y="551.3" font-size="9.3">CD3+</text>
<line x1="448.5" y1="562.2" x2="458.8" y2="562.2" stroke="#5cae37" stroke-width="1.6"/>
<rect x="452.2" y="560.7" width="3" height="3" fill="#5cae37"/>
<text x="462.8" y="565.1" font-size="9.3">CD3+CD4+</text>
<line x1="448.5" y1="576" x2="458.8" y2="576" stroke="#223f80" stroke-width="1.6"/>
<polygon points="452.2,577.35 455.2,577.35 453.7,574.35" fill="#223f80"/>
<text x="462.8" y="578.9" font-size="9.3">CD3+CD8+</text>
<text x="9.8" y="731.8" font-size="15.8" font-weight="bold" style="stroke-width:0" fill="#000" stroke="#000">G</text>
<line x1="54.7" y1="740" x2="54.7" y2="841.2" stroke="#111" stroke-width="1.6"/>
<line x1="50.8" y1="840.4" x2="198.7" y2="840.4" stroke="#111" stroke-width="1.6"/>
<line x1="50.8" y1="840.4" x2="54.7" y2="840.4" stroke="#111" stroke-width="1.3"/>
<text x="47" y="843.4" font-size="8.5" text-anchor="end">0</text>
<line x1="50.8" y1="821.22" x2="54.7" y2="821.22" stroke="#111" stroke-width="1.3"/>
<text x="47" y="824.22" font-size="8.5" text-anchor="end">100</text>
<line x1="50.8" y1="802.04" x2="54.7" y2="802.04" stroke="#111" stroke-width="1.3"/>
<text x="47" y="805.04" font-size="8.5" text-anchor="end">200</text>
<line x1="50.8" y1="782.86" x2="54.7" y2="782.86" stroke="#111" stroke-width="1.3"/>
<text x="47" y="785.86" font-size="8.5" text-anchor="end">300</text>
<line x1="50.8" y1="763.68" x2="54.7" y2="763.68" stroke="#111" stroke-width="1.3"/>
<text x="47" y="766.68" font-size="8.5" text-anchor="end">400</text>
<line x1="50.8" y1="744.5" x2="54.7" y2="744.5" stroke="#111" stroke-width="1.3"/>
<text x="47" y="747.5" font-size="8.5" text-anchor="end">500</text>
<line x1="72.9" y1="840.4" x2="72.9" y2="843.8" stroke="#111" stroke-width="1.3"/>
<text x="72.9" y="855.8" font-size="8.5" text-anchor="middle">1</text>
<line x1="109" y1="840.4" x2="109" y2="843.8" stroke="#111" stroke-width="1.3"/>
<text x="109" y="855.8" font-size="8.5" text-anchor="middle">3</text>
<line x1="144.9" y1="840.4" x2="144.9" y2="843.8" stroke="#111" stroke-width="1.3"/>
<text x="144.9" y="855.8" font-size="8.5" text-anchor="middle">6</text>
<line x1="181.1" y1="840.4" x2="181.1" y2="843.8" stroke="#111" stroke-width="1.3"/>
<text x="181.1" y="855.8" font-size="8.5" text-anchor="middle">12</text>
<text x="126.7" y="872.2" font-size="11" text-anchor="middle" textLength="66.7" lengthAdjust="spacingAndGlyphs" style="stroke-width:0.32px">Months from HSCT</text>
<text x="46.3" y="887" font-size="8.5" text-anchor="end" textLength="29.3" lengthAdjust="spacingAndGlyphs">Patients</text>
<text x="46.3" y="897.5" font-size="8.5" text-anchor="end" textLength="31.3" lengthAdjust="spacingAndGlyphs">analyzed</text>
<text x="72.9" y="886.6" font-size="8.5" text-anchor="middle">20</text>
<text x="109" y="886.6" font-size="8.5" text-anchor="middle">18</text>
<text x="144.9" y="886.6" font-size="8.5" text-anchor="middle">18</text>
<text x="181.1" y="886.6" font-size="8.5" text-anchor="middle">17</text>
<text transform="translate(24.3,793.2) rotate(-90)" x="0" y="0" font-size="11.2" text-anchor="middle" style="stroke-width:0.32px" textLength="60.7" lengthAdjust="spacingAndGlyphs">Cells/mcl (mean)</text>
<line x1="109" y1="797.9" x2="109" y2="840.4" stroke="#70468f" stroke-width="1.2"/>
<line x1="106.7" y1="797.9" x2="111.3" y2="797.9" stroke="#70468f" stroke-width="1.3"/>
<line x1="106.7" y1="840.4" x2="111.3" y2="840.4" stroke="#70468f" stroke-width="1.3"/>
<line x1="144.9" y1="797.3" x2="144.9" y2="840.4" stroke="#70468f" stroke-width="1.2"/>
<line x1="142.6" y1="797.3" x2="147.2" y2="797.3" stroke="#70468f" stroke-width="1.3"/>
<line x1="142.6" y1="840.4" x2="147.2" y2="840.4" stroke="#70468f" stroke-width="1.3"/>
<line x1="181.1" y1="758" x2="181.1" y2="823.5" stroke="#70468f" stroke-width="1.2"/>
<line x1="178.8" y1="758" x2="183.4" y2="758" stroke="#70468f" stroke-width="1.3"/>
<line x1="178.8" y1="823.5" x2="183.4" y2="823.5" stroke="#70468f" stroke-width="1.3"/>
<polyline points="72.9,840.2 109,824 144.9,820.8 181.1,791.7" fill="none" stroke="#4a1d6c" stroke-width="2.0" stroke-linejoin="round" stroke-linecap="butt"/>
<circle cx="72.9" cy="840.2" r="1.5" fill="#4a1d6c"/>
<circle cx="109" cy="824" r="1.5" fill="#4a1d6c"/>
<circle cx="144.9" cy="820.8" r="1.5" fill="#4a1d6c"/>
<circle cx="181.1" cy="791.7" r="1.5" fill="#4a1d6c"/>
<text x="203.1" y="777.5" font-size="9">CD19+</text>
<text x="265.8" y="732" font-size="15.8" font-weight="bold" style="stroke-width:0" fill="#000" stroke="#000">H</text>
<line x1="321.5" y1="746.3" x2="321.5" y2="841.2" stroke="#111" stroke-width="1.6"/>
<line x1="317.4" y1="840.3" x2="456.9" y2="840.3" stroke="#111" stroke-width="1.6"/>
<line x1="317.4" y1="840.3" x2="321.5" y2="840.3" stroke="#111" stroke-width="1.3"/>
<text x="312.7" y="843.3" font-size="8.5" text-anchor="end">0</text>
<line x1="317.4" y1="810.15" x2="321.5" y2="810.15" stroke="#111" stroke-width="1.3"/>
<text x="312.7" y="813.15" font-size="8.5" text-anchor="end">100</text>
<line x1="317.4" y1="780" x2="321.5" y2="780" stroke="#111" stroke-width="1.3"/>
<text x="312.7" y="783" font-size="8.5" text-anchor="end">200</text>
<line x1="317.4" y1="749.85" x2="321.5" y2="749.85" stroke="#111" stroke-width="1.3"/>
<text x="312.7" y="752.85" font-size="8.5" text-anchor="end">300</text>
<text transform="translate(274.4,795.4) rotate(-90)" x="0" y="0" font-size="8.8" text-anchor="middle">mg/dl</text>
<text x="312.3" y="829.4" font-size="8.5" text-anchor="end" textLength="32.3" lengthAdjust="spacingAndGlyphs">LLN (45)</text>
<line x1="324" y1="826.8" x2="457" y2="826.8" stroke="#111" stroke-width="1.2" stroke-dasharray="1.6 1.5"/>
<line x1="335.5" y1="797" x2="335.5" y2="817" stroke="#111" stroke-width="1.1"/>
<path d="M332.8,791.8 L338.2,791.8 L335.5,798.6 Z" fill="#efcdbf" stroke="#111" stroke-width="0.9" stroke-linejoin="round"/>
<path d="M335.8,815.8 C336.17,816.43 337.27,818.32 338,819.6 C338.73,820.88 339.53,822.3 340.2,823.5 C340.87,824.7 341.78,825.68 342,826.8 C342.22,827.92 341.87,829 341.5,830.2 C341.13,831.4 339.78,832.8 339.8,834 C339.82,835.2 341.13,836.47 341.6,837.4 C342.07,838.33 342.43,839.23 342.6,839.6 L328.4,839.6 C328.57,839.23 328.93,838.33 329.4,837.4 C329.87,836.47 331.18,835.2 331.2,834 C331.22,832.8 329.87,831.4 329.5,830.2 C329.13,829 328.78,827.92 329,826.8 C329.22,825.68 330.13,824.7 330.8,823.5 C331.47,822.3 332.27,820.88 333,819.6 C333.73,818.32 334.83,816.43 335.2,815.8 Z" fill="#efcdbf" stroke="#111" stroke-width="1.1" stroke-linejoin="round"/>
<line x1="331.63" y1="823.1" x2="339.37" y2="823.1" stroke="#111" stroke-width="0.7"/>
<line x1="329.89" y1="828.8" x2="341.11" y2="828.8" stroke="#111" stroke-width="1.3" stroke-dasharray="1.8 1.4"/>
<path d="M360.3,793.1 C360.25,793.75 360.35,795.08 360,797 C359.65,798.92 358.25,801.47 358.2,804.6 C358.15,807.73 359.03,812.53 359.7,815.8 C360.37,819.07 361.67,821.9 362.2,824.2 C362.73,826.5 363,827.8 362.9,829.6 C362.8,831.4 362.18,833.33 361.6,835 C361.02,836.67 359.77,838.83 359.4,839.6 L354.2,839.6 C353.83,838.83 352.58,836.67 352,835 C351.42,833.33 350.8,831.4 350.7,829.6 C350.6,827.8 350.87,826.5 351.4,824.2 C351.93,821.9 353.23,819.07 353.9,815.8 C354.57,812.53 355.45,807.73 355.4,804.6 C355.35,801.47 353.95,798.92 353.6,797 C353.25,795.08 353.35,793.75 353.3,793.1 Z" fill="#d88a76" stroke="#111" stroke-width="1.1" stroke-linejoin="round"/>
<line x1="356" y1="804.6" x2="357.6" y2="804.6" stroke="#111" stroke-width="0.7"/>
<line x1="351.97" y1="824.4" x2="361.63" y2="824.4" stroke="#111" stroke-width="1.3" stroke-dasharray="1.8 1.4"/>
<line x1="351.95" y1="832.3" x2="361.65" y2="832.3" stroke="#111" stroke-width="0.7"/>
<line x1="378.3" y1="750" x2="378.3" y2="773" stroke="#111" stroke-width="1.1"/>
<path d="M378.6,772.4 C378.88,773.17 379.72,775.48 380.3,777 C380.88,778.52 381.6,779.83 382.1,781.5 C382.6,783.17 382.95,785.08 383.3,787 C383.65,788.92 383.93,790.88 384.2,793 C384.47,795.12 384.92,797.22 384.9,799.7 C384.88,802.18 384.42,805.15 384.1,807.9 C383.78,810.65 383.1,813.45 383,816.2 C382.9,818.95 383.4,821.32 383.5,824.4 C383.6,827.48 383.58,832.98 383.6,834.7 L373,834.7 C373.02,832.98 373,827.48 373.1,824.4 C373.2,821.32 373.7,818.95 373.6,816.2 C373.5,813.45 372.82,810.65 372.5,807.9 C372.18,805.15 371.72,802.18 371.7,799.7 C371.68,797.22 372.13,795.12 372.4,793 C372.67,790.88 372.95,788.92 373.3,787 C373.65,785.08 374,783.17 374.5,781.5 C375,779.83 375.72,778.52 376.3,777 C376.88,775.48 377.72,773.17 378,772.4 Z" fill="#a3062b" stroke="#111" stroke-width="1.1" stroke-linejoin="round"/>
<line x1="372.96" y1="793.4" x2="383.64" y2="793.4" stroke="#111" stroke-width="0.7"/>
<line x1="372.54" y1="802.2" x2="384.06" y2="802.2" stroke="#111" stroke-width="1.3" stroke-dasharray="1.8 1.4"/>
<path d="M400.3,833.1 C400.77,833.35 402.25,834.02 403.1,834.6 C403.95,835.18 405.43,836.05 405.4,836.6 C405.37,837.15 403.55,837.47 402.9,837.9 C402.25,838.33 401.73,838.98 401.5,839.2 L397.5,839.2 C397.27,838.98 396.75,838.33 396.1,837.9 C395.45,837.47 393.63,837.15 393.6,836.6 C393.57,836.05 395.05,835.18 395.9,834.6 C396.75,834.02 398.23,833.35 398.7,833.1 Z" fill="#b9b9d2" stroke="#111" stroke-width="1.1" stroke-linejoin="round"/>
<line x1="396.5" y1="836.8" x2="402.5" y2="836.8" stroke="#e8e8f4" stroke-width="0.9" stroke-dasharray="1.2 1"/>
<path d="M426,806 C425.85,806.77 425.4,809.1 425.1,810.6 C424.8,812.1 423.85,812.92 424.2,815 C424.55,817.08 427.1,820.6 427.2,823.1 C427.3,825.6 424.98,828.02 424.8,830 C424.62,831.98 425.72,833.5 426.1,835 C426.48,836.5 426.93,838.33 427.1,839 L414.3,839 C414.47,838.33 414.92,836.5 415.3,835 C415.68,833.5 416.78,831.98 416.6,830 C416.42,828.02 414.1,825.6 414.2,823.1 C414.3,820.6 416.85,817.08 417.2,815 C417.55,812.92 416.6,812.1 416.3,810.6 C416,809.1 415.55,806.77 415.4,806 Z" fill="#9aa0c8" stroke="#111" stroke-width="1.1" stroke-linejoin="round"/>
<line x1="414.8" y1="823.1" x2="426.6" y2="823.1" stroke="#111" stroke-width="1.3" stroke-dasharray="1.8 1.4"/>
<path d="M445,812.9 C445.45,813.17 447.03,813.73 447.7,814.5 C448.37,815.27 449.05,816.5 449,817.5 C448.95,818.5 448.47,819.03 447.4,820.5 C446.33,821.97 443.4,825.33 442.6,826.3 L442.2,826.3 C441.4,825.33 438.47,821.97 437.4,820.5 C436.33,819.03 435.85,818.5 435.8,817.5 C435.75,816.5 436.43,815.27 437.1,814.5 C437.77,813.73 439.35,813.17 439.8,812.9 Z" fill="#2d4b88" stroke="#111" stroke-width="1.1" stroke-linejoin="round"/>
<path d="M442.4,826.1 L445.7,837.3 L439.1,837.3 Z" fill="#2d4b88" stroke="#111" stroke-width="0.9" stroke-linejoin="round"/>
<line x1="436.72" y1="818.1" x2="448.08" y2="818.1" stroke="#111" stroke-width="1.3" stroke-dasharray="1.8 1.4"/>
<line x1="317.4" y1="840.5" x2="456.9" y2="840.5" stroke="#111" stroke-width="1.6"/>
<line x1="335.4" y1="840.3" x2="335.4" y2="844.3" stroke="#111" stroke-width="1.3"/>
<line x1="356.9" y1="840.3" x2="356.9" y2="844.3" stroke="#111" stroke-width="1.3"/>
<line x1="378.2" y1="840.3" x2="378.2" y2="844.3" stroke="#111" stroke-width="1.3"/>
<line x1="399.5" y1="840.3" x2="399.5" y2="844.3" stroke="#111" stroke-width="1.3"/>
<line x1="420.8" y1="840.3" x2="420.8" y2="844.3" stroke="#111" stroke-width="1.3"/>
<line x1="442.3" y1="840.3" x2="442.3" y2="844.3" stroke="#111" stroke-width="1.3"/>
<text transform="translate(340.7,853.8) rotate(-45)" x="0" y="0" font-size="8" text-anchor="end">IgA 3 months</text>
<text transform="translate(362.2,853.8) rotate(-45)" x="0" y="0" font-size="8" text-anchor="end">IgA 6 months</text>
<text transform="translate(383.5,853.8) rotate(-45)" x="0" y="0" font-size="8" text-anchor="end">IgA 12 months</text>
<text transform="translate(404.8,853.8) rotate(-45)" x="0" y="0" font-size="8" text-anchor="end">IgM 3 months</text>
<text transform="translate(426.1,853.8) rotate(-45)" x="0" y="0" font-size="8" text-anchor="end">IgM 6 months</text>
<text transform="translate(447.6,853.8) rotate(-45)" x="0" y="0" font-size="8" text-anchor="end">IgM 12 months</text>
<path d="M0,0H520V909H0Z M1.6,1.6V907.1H518.4V1.6Z" fill="#000" fill-rule="evenodd"/>
</svg></body></html>
